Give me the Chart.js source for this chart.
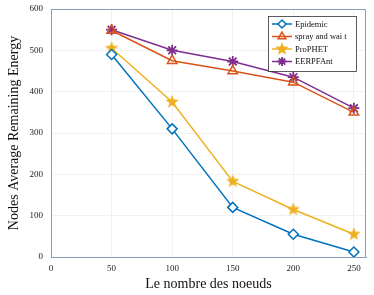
<!DOCTYPE html>
<html lang="fr">
<head>
    <meta charset="UTF-8">
    <title>Nodes Average Remaining Energy</title>
    <script src="https://cdn.jsdelivr.net/npm/chart.js"></script>
    <style>
        html, body { margin: 0; padding: 0; background: #fff; }
        #wrap { width: 374px; height: 295px; }
    </style>
</head>
<body>
    <div id="wrap"><canvas id="energyChart" width="374" height="295"></canvas></div>

    <script>
        // === données ===
        const nodes = [50, 100, 150, 200, 250];
        const epidemic = [490, 310, 120, 55, 12];
        const sprayWait = [548, 475, 450, 423, 350];
        const prophet = [505, 375, 183, 115, 55];
        const eerpfant = [550, 500, 473, 435, 360];
        const xTicks = [0, 50, 100, 150, 200, 250];
        const yTicks = [0, 100, 200, 300, 400, 500, 600];

        const axisColor = "#8a9bbf";

        // étoile pleine à 5 branches (ProPHET)
        function makeStar(color, r) {
            let c = document.createElement("canvas");
            c.width = c.height = r * 2 + 2;
            let g = c.getContext("2d");
            g.beginPath();
            for (let i = 0; i < 10; i++) {
                let rad = i % 2 === 0 ? r : r * 0.42;
                let a = -Math.PI / 2 + i * Math.PI / 5;
                let px = r + 1 + rad * Math.cos(a);
                let py = r + 1 + rad * Math.sin(a);
                if (i === 0) g.moveTo(px, py); else g.lineTo(px, py);
            }
            g.closePath();
            g.fillStyle = color;
            g.fill();
            return c;
        }
        const starImg = makeStar("#EDB120", 7);

        function pts(values) {
            return nodes.map((n, i) => ({ x: n, y: values[i] }));
        }

        // légende dessinée dans la zone du graphique (style MATLAB)
        const boxLegend = {
            id: "boxLegend",
            afterDraw(chart) {
                let ctx = chart.ctx;
                let x0 = 268, y0 = 16, w = 88, h = 55;
                ctx.save();
                ctx.fillStyle = "#fff";
                ctx.fillRect(x0, y0, w, h);
                ctx.strokeStyle = "#333";
                ctx.lineWidth = 0.8;
                ctx.strokeRect(x0 + 0.5, y0 + 0.5, w, h);
                ctx.font = "8.5px 'Liberation Serif', serif";
                ctx.textBaseline = "middle";
                chart.data.datasets.forEach((ds, i) => {
                    let y = y0 + 8 + i * 12.5;
                    ctx.strokeStyle = ds.borderColor;
                    ctx.lineWidth = 1.5;
                    ctx.beginPath();
                    ctx.moveTo(x0 + 4, y);
                    ctx.lineTo(x0 + 24, y);
                    ctx.stroke();
                    ctx.fillStyle = ds.backgroundColor;
                    ctx.lineWidth = ds.pointBorderWidth;
                    Chart.helpers.drawPoint(ctx, {
                        pointStyle: ds.pointStyle,
                        radius: ds.legendRadius,
                        rotation: 0,
                        borderWidth: ds.pointBorderWidth
                    }, x0 + 14, y);
                    ctx.fillStyle = "#111";
                    ctx.fillText(ds.label, x0 + 27, y + 0.5);
                });
                ctx.restore();
            }
        };

        let ctx = document.getElementById("energyChart").getContext("2d");
        new Chart(ctx, {
            type: "line",
            data: {
                datasets: [
                    {
                        label: "Epidemic",
                        data: pts(epidemic),
                        borderColor: "#0072BD",
                        backgroundColor: "#fff",
                        pointStyle: "rectRot",
                        pointRadius: 5,
                        legendRadius: 4,
                        pointBorderWidth: 1.5,
                        borderWidth: 1.5
                    },
                    {
                        label: "spray and wai t",
                        data: pts(sprayWait),
                        borderColor: "#D95319",
                        backgroundColor: "rgba(255,255,255,0)",
                        pointStyle: "triangle",
                        pointRadius: 5.5,
                        legendRadius: 4.5,
                        pointBorderWidth: 1.5,
                        borderWidth: 1.5
                    },
                    {
                        label: "ProPHET",
                        data: pts(prophet),
                        borderColor: "#EDB120",
                        backgroundColor: "#EDB120",
                        pointStyle: starImg,
                        pointRadius: 6,
                        legendRadius: 5,
                        pointBorderWidth: 1,
                        borderWidth: 1.5
                    },
                    {
                        label: "EERPFAnt",
                        data: pts(eerpfant),
                        borderColor: "#7E2F8E",
                        backgroundColor: "#7E2F8E",
                        pointStyle: "star",
                        pointRadius: 5.5,
                        legendRadius: 4.5,
                        pointBorderWidth: 1.8,
                        borderWidth: 1.5
                    }
                ]
            },
            options: {
                responsive: false,
                animation: false,
                layout: { padding: { left: 0, right: 8, top: 9, bottom: 0 } },
                plugins: {
                    legend: { display: false },
                    tooltip: { enabled: false }
                },
                elements: { line: { tension: 0 } },
                scales: {
                    x: {
                        type: "linear",
                        min: 0,
                        max: 260,
                        afterBuildTicks: axis => { axis.ticks = xTicks.map(v => ({ value: v })); },
                        afterFit: axis => { axis.height = 38; axis.paddingLeft = 0; axis.paddingRight = 0; },
                        ticks: {
                            color: "#222",
                            font: { family: "'Liberation Serif', serif", size: 9 },
                            padding: 6,
                            maxRotation: 0
                        },
                        grid: { color: "#eeeeee", lineWidth: 0.8, drawTicks: false },
                        border: { color: axisColor, width: 1 },
                        title: {
                            display: true,
                            text: "Le nombre des noeuds",
                            color: "#111",
                            font: { family: "'Liberation Serif', serif", size: 14 },
                            padding: { top: 1, bottom: 2 }
                        }
                    },
                    y: {
                        min: 0,
                        max: 600,
                        afterBuildTicks: axis => { axis.ticks = yTicks.map(v => ({ value: v })); },
                        afterFit: axis => { axis.width = 51; axis.paddingTop = 0; axis.paddingBottom = 0; },
                        ticks: {
                            color: "#222",
                            font: { family: "'Liberation Serif', serif", size: 9 },
                            padding: 8
                        },
                        grid: { color: "#eeeeee", lineWidth: 0.8, drawTicks: false },
                        border: { color: axisColor, width: 1 },
                        title: {
                            display: true,
                            text: "Nodes Average Remaining Energy",
                            color: "#111",
                            font: { family: "'Liberation Serif', serif", size: 14 },
                            padding: { top: 6, bottom: 8 }
                        }
                    }
                }
            },
            plugins: [boxLegend, {
                id: "frame",
                afterDatasetsDraw(chart) {
                    let a = chart.chartArea, c = chart.ctx;
                    c.save();
                    c.strokeStyle = axisColor;
                    c.lineWidth = 1;
                    c.beginPath();
                    c.moveTo(a.left, a.top + 0.5);
                    c.lineTo(a.right - 0.5, a.top + 0.5);
                    c.lineTo(a.right - 0.5, a.bottom);
                    c.stroke();
                    c.restore();
                }
            }]
        });
    </script>
</body>
</html>
